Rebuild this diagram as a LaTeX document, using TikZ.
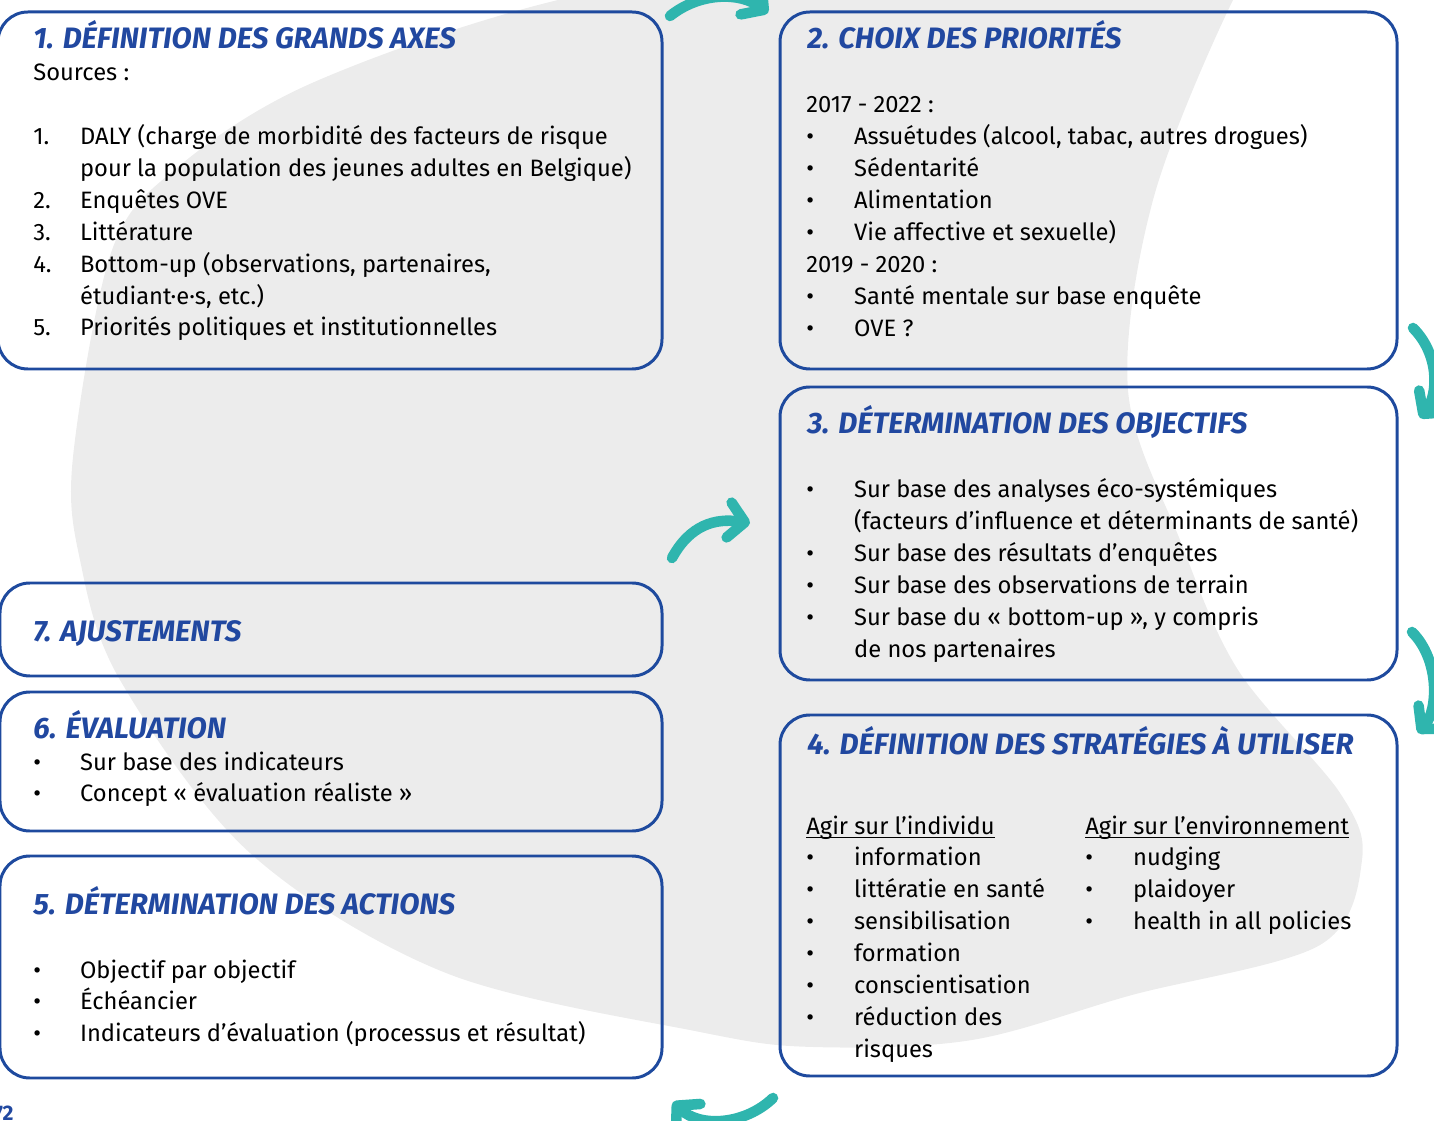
\documentclass[tikz,border=0pt]{standalone}
\usepackage{fontspec}
\setmainfont{Fira Sans}
\usetikzlibrary{arrows.meta,fit}

\definecolor{bleu}{RGB}{30,74,158}
\definecolor{bleutitre}{RGB}{33,72,160}
\definecolor{turquoise}{RGB}{47,181,174}
\definecolor{fond}{RGB}{236,236,236}

\newcommand{\souligne}[1]{{\setbox0\hbox{#1}\rlap{\rule[-2.4pt]{\wd0}{0.6pt}}\box0}}

\tikzset{
    cadre/.style={draw=bleu, line width=1.7pt, rounded corners=17pt, inner sep=0pt},
    titre/.style={anchor=base west, inner sep=0pt, text=bleutitre,
        font=\fontsize{16.8}{20}\selectfont\bfseries\itshape},
    corps/.style={anchor=base west, inner sep=0pt, font=\fontsize{13.5}{18.14}\selectfont},
    fleche/.style={draw=turquoise, line width=6pt, line cap=round,
        -{Straight Barb[length=9pt,width=20pt,line join=round,line cap=round]}}
}

\begin{document}
\begin{tikzpicture}[x=0.02cm,y=-0.02cm]
\useasboundingbox (0,0) rectangle (1434,1121);
% Gray background shape
\fill[fond] plot[smooth cycle, tension=0.55] coordinates {
    (1233,0) (1153,200) (1128,390) (1180,540) (1238,670) (1340,793)
    (1362,860) (1320,945) (1132,995) (972,1040) (813,1047) (700,1032)
    (446,973) (250,853) (120,680) (80,560) (73,457) (112,250)
    (178,167) (312,83) (558,0) (900,-60) (1290,-80)};

% Boxes
\node[cadre, fit={(-2,12) (662,369)}] (axes) {};
\node[cadre, fit={(780,12) (1397,369)}] (prio) {};
\node[cadre, fit={(780,387) (1397,680)}] (obj) {};
\node[cadre, fit={(780,715) (1397,1076)}] (strat) {};
\node[cadre, fit={(0,583) (662,676)}] (ajust) {};
\node[cadre, fit={(0,692) (662,831)}] (eval) {};
\node[cadre, fit={(0,856) (662,1078)}] (actions) {};

% Titles
\node[titre] (axesT) at (33,49) {1. DÉFINITION DES GRANDS AXES};
\node[titre] (prioT) at (807,49) {2. CHOIX DES PRIORITÉS};
\node[titre] (objT) at (807,434) {3. DÉTERMINATION DES OBJECTIFS};
\node[titre] (stratT) at (807,754) {4. DÉFINITION DES STRATÉGIES À UTILISER};
\node[titre] (actionsT) at (33,914) {5. DÉTERMINATION DES ACTIONS};
\node[titre] (evalT) at (33,738) {6. ÉVALUATION};
\node[titre] (ajustT) at (33,642) {7. AJUSTEMENTS};

% Texts
\node[corps] (axesL) at (33,81) {\begin{tabular}[t]{@{}p{26.6pt}@{}l@{}}
    \multicolumn{2}{@{}l}{Sources~:}\\
    \\
    1. & DALY (charge de morbidité des facteurs de risque\\
       & pour la population des jeunes adultes en Belgique)\\
    2. & Enquêtes OVE\\
    3. & Littérature\\
    4. & Bottom-up (observations, partenaires,\\
       & étudiant·e·s, etc.)\\
    5. & Priorités politiques et institutionnelles
\end{tabular}};
\node[corps] (prioL) at (806,113) {\begin{tabular}[t]{@{}p{27.2pt}@{}l@{}}
    \multicolumn{2}{@{}l}{2017 - 2022~:}\\
    • & Assuétudes (alcool, tabac, autres drogues)\\
    • & Sédentarité\\
    • & Alimentation\\
    • & Vie affective et sexuelle)\\
    \multicolumn{2}{@{}l}{2019 - 2020~:}\\
    • & Santé mentale sur base enquête\\
    • & OVE~?
\end{tabular}};
\node[corps] (objL) at (806,498) {\begin{tabular}[t]{@{}p{27.2pt}@{}l@{}}
    • & Sur base des analyses éco-systémiques\\
      & (facteurs d’influence et déterminants de santé)\\
    • & Sur base des résultats d’enquêtes\\
    • & Sur base des observations de terrain\\
    • & Sur base du «~bottom-up~», y compris\\
      & de nos partenaires
\end{tabular}};
\node[corps] (individu) at (806,834) {\begin{tabular}[t]{@{}p{27.2pt}@{}l@{}}
    \multicolumn{2}{@{}l}{\souligne{Agir sur l’individu}}\\
    • & information\\
    • & littératie en santé\\
    • & sensibilisation\\
    • & formation\\
    • & conscientisation\\
    • & réduction des\\
      & risques
\end{tabular}};
\node[corps] (environ) at (1085,834) {\begin{tabular}[t]{@{}p{27.2pt}@{}l@{}}
    \multicolumn{2}{@{}l}{\souligne{Agir sur l’environnement}}\\
    • & nudging\\
    • & plaidoyer\\
    • & health in all policies
\end{tabular}};
\node[corps] (evalL) at (33,770) {\begin{tabular}[t]{@{}p{26.6pt}@{}l@{}}
    • & Sur base des indicateurs\\
    • & Concept «~évaluation réaliste~»
\end{tabular}};
\node[corps] (actionsL) at (33,978) {\begin{tabular}[t]{@{}p{26.6pt}@{}l@{}}
    • & Objectif par objectif\\
    • & Échéancier\\
    • & Indicateurs d’évaluation (processus et résultat)
\end{tabular}};
\node[anchor=base east, inner sep=0pt, text=bleutitre, font=\fontsize{12}{14}\selectfont\bfseries] (page) at (14,1120) {72};

% Arrows
\coordinate (f1a) at (670,16);    \coordinate (f1b) at (768,13);
\coordinate (f2a) at (1413,328);  \coordinate (f2b) at (1420,418);
\coordinate (f3a) at (1412,632);  \coordinate (f3b) at (1418,733);
\coordinate (f4a) at (773,1098);  \coordinate (f4b) at (673,1102);
\coordinate (f5a) at (672,558);   \coordinate (f5b) at (750,523);
\draw[fleche] (f1a) .. controls (700,-8) and (740,-8) .. (f1b);
\draw[fleche] (f2a) .. controls (1440,355) and (1438,395) .. (f2b);
\draw[fleche] (f3a) .. controls (1440,660) and (1438,710) .. (f3b);
\draw[fleche] (f4a) .. controls (745,1125) and (700,1128) .. (f4b);
\draw[fleche] (f5a) .. controls (690,525) and (715,518) .. (f5b);
\end{tikzpicture}
\end{document}
